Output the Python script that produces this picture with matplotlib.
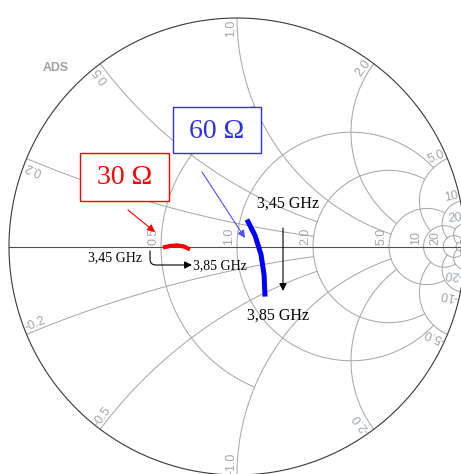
import numpy as np
import matplotlib.pyplot as plt
from matplotlib.patches import Circle, Rectangle

# Smith chart grid: resistance circles and the reactance where each one stops
r_circles = [0.5, 1.0, 2.0, 5.0, 10.0, 20.0, 50.0]
r_circle_xmax = [1.0, 5.0, 5.0, 10.0, 20.0, 50.0, 100.0]
# reactance arcs and the resistance where each one stops
x_arcs = [0.2, 0.5, 1.0, 2.0, 5.0, 10.0, 20.0, 50.0]
x_arc_rmax = [2.0, 2.0, 5.0, 5.0, 10.0, 20.0, 50.0, 100.0]

r_labels = ['0.5', '1.0', '2.0', '5.0', '10', '20']
x_labels = ['0.2', '0.5', '1.0', '2.0', '5.0', '10', '20']

# normalized impedance traces, 3.45 .. 3.85 GHz
freq_ghz = [3.45, 3.55, 3.65, 3.75, 3.85]
z30_re = [0.510, 0.546, 0.584, 0.623, 0.658]
z30_im = [-0.005, 0.003, 0.006, 0.000, -0.018]
z60_re = [1.060, 1.166, 1.232, 1.226, 1.146]
z60_im = [0.254, 0.113, -0.088, -0.310, -0.536]

# chart placement in pixels
cx, cy, rx, ry = 237.0, 246.5, 228.0, 228.5
W, H = 461, 474


def gamma(z):
    z = np.asarray(z, dtype=complex)
    return (z - 1) / (z + 1)


def px(x, y):
    # image pixel -> reflection coefficient plane
    return (x - cx) / rx, (cy - y) / ry


grid_c = '#a9a9a9'
label_c = '#9ea6ae'

fig = plt.figure(figsize=(W / 100, H / 100), dpi=100)
ax = fig.add_axes([0, 0, 1, 1])
ax.set_xlim(-cx / rx, (W - cx) / rx)
ax.set_ylim((cy - H) / ry, cy / ry)
ax.axis('off')

clip = Circle((0, 0), 1.0, transform=ax.transData, fc='none', ec='none')
ax.add_patch(clip)

# resistance circles
for r, xm in zip(r_circles, r_circle_xmax):
    t = np.linspace(-np.arctan(xm), np.arctan(xm), 600)
    g = gamma(r + 1j * np.tan(t))
    ln, = ax.plot(g.real, g.imag, color=grid_c, lw=0.75)
    ln.set_clip_path(clip)

# reactance arcs
for x, rm in zip(x_arcs, x_arc_rmax):
    rr = np.concatenate([[0], np.geomspace(1e-3, rm, 600)])
    for s in (1, -1):
        g = gamma(rr + 1j * s * x)
        ln, = ax.plot(g.real, g.imag, color=grid_c, lw=0.75)
        ln.set_clip_path(clip)

# real axis and outer circle
ax.plot([-1, 1], [0, 0], color='#505050', lw=0.8)
th = np.linspace(0, 2 * np.pi, 800)
ax.plot(np.cos(th), np.sin(th), color='#383838', lw=0.8)

# labels on the real axis
for r, lab in zip(r_circles, r_labels):
    g = gamma(r).real
    ax.text(g - 0.008, 0.008, lab, rotation=90, rotation_mode='anchor',
            ha='left', va='bottom', fontsize=9, color=label_c,
            family='Liberation Sans')

# labels on the rim
for x, lab in zip(x_arcs, x_labels):
    for s in (1, -1):
        g = complex(gamma(1j * s * x)) * 0.995
        ang = np.degrees(np.angle(g))
        if s > 0:
            ax.text(g.real, g.imag, lab, rotation=ang, rotation_mode='anchor',
                    ha='right', va='bottom', fontsize=9, color=label_c,
                    family='Liberation Sans')
        else:
            ax.text(g.real, g.imag, '-' + lab, rotation=ang + 180,
                    rotation_mode='anchor', ha='left', va='bottom',
                    fontsize=9, color=label_c, family='Liberation Sans')

ax.text(*px(43, 71), 'ADS', fontsize=8.8, fontweight='bold', color='#a0a0a0',
        family='Liberation Sans', ha='left', va='baseline')

# impedance traces
g30 = gamma(np.array(z30_re) + 1j * np.array(z30_im))
g60 = gamma(np.array(z60_re) + 1j * np.array(z60_im))
ax.plot(g30.real, g30.imag, color='#ff0000', lw=3.0, solid_capstyle='butt')
ax.plot(g60.real, g60.imag, color='#0000ff', lw=3.6, solid_capstyle='butt')

# annotation boxes
serif = 'Liberation Serif'
for (x0, y0, x1, y1), col, txt in [((80, 153, 169, 201), '#ff0000', '30 Ω'),
                                    ((173, 107, 261, 153), '#3030e0', '60 Ω')]:
    a0 = px(x0, y1)
    a1 = px(x1, y0)
    ax.add_patch(Rectangle(a0, a1[0] - a0[0], a1[1] - a0[1], fc='white',
                           ec=col, lw=1.0, zorder=5))
    ax.text(*px((x0 + x1) / 2, (y0 + y1) / 2 + 1), txt, color=col,
            fontsize=20, family=serif, ha='center', va='center', zorder=6)

ax.annotate('', xy=px(155, 232), xytext=px(128, 210),
            arrowprops=dict(arrowstyle='-|>', color='#ff0000', lw=0.8,
                            mutation_scale=11, shrinkA=0, shrinkB=0))
ax.annotate('', xy=px(245, 238), xytext=px(202, 172),
            arrowprops=dict(arrowstyle='-|>', color='#5050f0', lw=0.8,
                            mutation_scale=11, shrinkA=0, shrinkB=0))

# frequency notes
ax.text(*px(257, 208), '3,45 GHz', fontsize=11.5, family=serif,
        ha='left', va='baseline')
ax.text(*px(247, 320), '3,85 GHz', fontsize=11.5, family=serif,
        ha='left', va='baseline')
ax.annotate('', xy=px(283, 291), xytext=px(283, 228),
            arrowprops=dict(arrowstyle='-|>', color='black', lw=0.8,
                            mutation_scale=11, shrinkA=0, shrinkB=0))

ax.text(*px(88, 261), '3,45 GHz', fontsize=10, family=serif,
        ha='left', va='baseline')
ax.text(*px(193, 269), '3,85 GHz', fontsize=10, family=serif,
        ha='left', va='baseline')
ax.annotate('', xy=px(192, 265), xytext=px(150, 251),
            arrowprops=dict(arrowstyle='-|>', color='black', lw=0.8,
                            mutation_scale=11, shrinkA=0, shrinkB=0,
                            connectionstyle='angle,angleA=90,angleB=0,rad=6'))

fig.savefig('out.png', dpi=100)
